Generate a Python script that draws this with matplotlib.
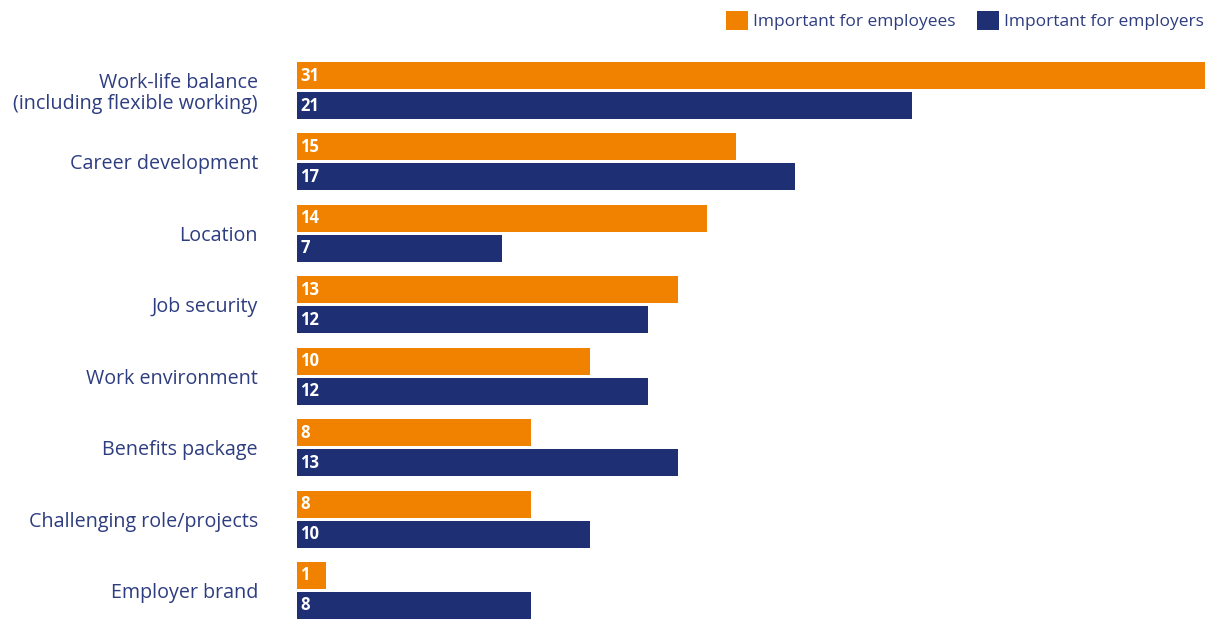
import matplotlib.pyplot as plt
import numpy as np

categories = ['Work-life balance\n(including flexible working)', 'Career development',
              'Location', 'Job security', 'Work environment', 'Benefits package',
              'Challenging role/projects', 'Employer brand']
employees = [31, 15, 14, 13, 10, 8, 8, 1]
employers = [21, 17, 7, 12, 12, 13, 10, 8]
series_names = ['Important for employees', 'Important for employers']

orange = '#F08200'
navy = '#1E2F73'
text_col = '#2E3D80'

plt.rcParams['font.family'] = ['Open Sans', 'DejaVu Sans']

fig = plt.figure(figsize=(12.15, 6.19), dpi=100)
ax = fig.add_axes([297 / 1215, 0, 908 / 1215, 557 / 619])

y = np.arange(len(categories))
off = 15 / 71.43
h = 27 / 71.43
b1 = ax.barh(y - off, employees, height=h, color=orange, label=series_names[0])
b2 = ax.barh(y + off, employers, height=h, color=navy, label=series_names[1])

for bars, vals in [(b1, employees), (b2, employers)]:
    for bar, v in zip(bars, vals):
        ax.text(0.12, bar.get_y() + bar.get_height() / 2, str(v), color='white',
                fontsize=12, fontweight='bold', va='center', ha='left')

ax.set_xlim(0, 31)
ax.set_ylim(7.4, -0.4)
ax.set_yticks(y)
ax.set_yticklabels(categories, fontsize=14.2, color=text_col, linespacing=1.05)
ax.tick_params(axis='y', length=0, pad=28)
ax.set_xticks([])
for s in ax.spines.values():
    s.set_visible(False)

leg = fig.legend(loc='upper right', bbox_to_anchor=(1.0, 1.0), ncol=2, frameon=False,
                 fontsize=12.5, handlelength=1.27, handleheight=1.27, handletextpad=0.3,
                 columnspacing=1.2, borderaxespad=0.25)
for t in leg.get_texts():
    t.set_color(text_col)

fig.savefig('out.png', dpi=100)
